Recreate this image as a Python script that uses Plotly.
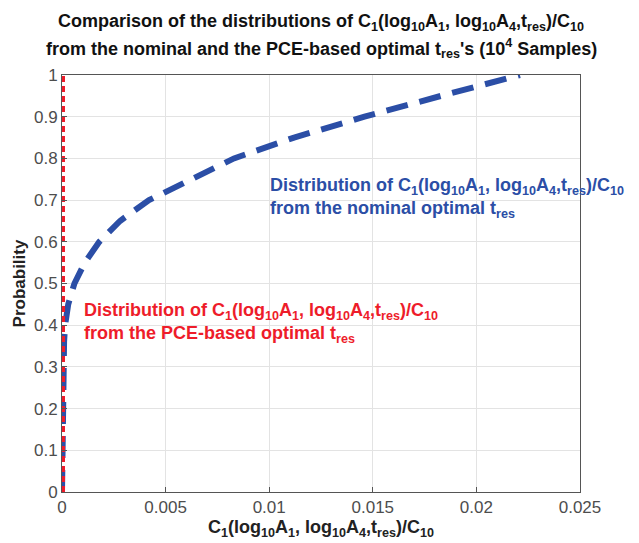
import plotly.graph_objects as go

# data
nominal_x = [0.0, 0.00002, 0.00005, 0.0001, 0.00015, 0.0003, 0.0006, 0.0011, 0.0018, 0.0028, 0.0042, 0.0062, 0.0083, 0.0112, 0.0146, 0.0183, 0.0221]
nominal_y = [0.0, 0.15, 0.30, 0.36, 0.40, 0.45, 0.50, 0.55, 0.60, 0.65, 0.70, 0.75, 0.80, 0.85, 0.90, 0.95, 1.0]
pce_x = [0.0, 0.0]
pce_y = [0.0, 1.0]
x_ticks = [0, 0.005, 0.01, 0.015, 0.02, 0.025]
x_tick_labels = ["0", "0.005", "0.01", "0.015", "0.02", "0.025"]
y_ticks = [0, 0.1, 0.2, 0.3, 0.4, 0.5, 0.6, 0.7, 0.8, 0.9, 1]
y_tick_labels = ["0", "0.1", "0.2", "0.3", "0.4", "0.5", "0.6", "0.7", "0.8", "0.9", "1"]

BLUE = "#2b4ea6"
RED = "#ee1c2a"
FONT = "Liberation Sans, Arial, Helvetica"
expr = "C<sub>1</sub>(log<sub>10</sub>A<sub>1</sub>, log<sub>10</sub>A<sub>4</sub>,t<sub>res</sub>)/C<sub>10</sub>"

fig = go.Figure()
fig.add_trace(go.Scatter(x=nominal_x, y=nominal_y, mode="lines",
                         line=dict(color=BLUE, width=6, dash="22px,12px"),
                         showlegend=False, cliponaxis=False))
fig.add_trace(go.Scatter(x=pce_x, y=pce_y, mode="lines",
                         line=dict(color=RED, width=6, dash="6px,4px"),
                         showlegend=False, cliponaxis=False))

fig.add_annotation(x=0.00097, y=0.465, xref="x", yref="y", xanchor="left", yanchor="top",
                   text="<b>Distribution of " + expr + "<br>from the PCE-based optimal t<sub>res</sub></b>",
                   showarrow=False, align="left", font=dict(color=RED, size=18, family=FONT))
fig.add_annotation(x=0.00994, y=0.765, xref="x", yref="y", xanchor="left", yanchor="top",
                   text="<b>Distribution of " + expr + "<br>from the nominal optimal t<sub>res</sub></b>",
                   showarrow=False, align="left", font=dict(color=BLUE, size=18, family=FONT))

# title as two annotation lines
fig.add_annotation(x=0.5, y=1.127, xref="paper", yref="paper", xanchor="center", yanchor="middle",
                   text="<b>Comparison of the distributions of " + expr + "</b>",
                   showarrow=False, font=dict(size=18, color="#111111", family=FONT))
fig.add_annotation(x=0.5, y=1.063, xref="paper", yref="paper", xanchor="center", yanchor="middle",
                   text="<b>from the nominal and the PCE-based optimal t<sub>res</sub>'s (10<sup>4</sup> Samples)</b>",
                   showarrow=False, font=dict(size=18, color="#111111", family=FONT))

fig.update_layout(
    width=639, height=543,
    margin=dict(l=62, r=59, t=75, b=51),
    paper_bgcolor="white", plot_bgcolor="white",
    font=dict(family=FONT, color="#333333"),
    xaxis=dict(range=[0, 0.025], tickvals=x_ticks, ticktext=x_tick_labels, automargin=False,
               showgrid=True, gridcolor="#e3e3e3", gridwidth=1,
               showline=True, linecolor="#555555", linewidth=1, mirror=True,
               ticks="inside", ticklen=5, tickcolor="#555555",
               tickfont=dict(size=17, color="#4d4d4d"), zeroline=False,
               title=dict(text="<b>" + expr + "</b>", standoff=0,
                          font=dict(size=18, color="#222222"))),
    yaxis=dict(range=[0, 1], tickvals=y_ticks, ticktext=y_tick_labels, automargin=False,
               showgrid=True, gridcolor="#e3e3e3", gridwidth=1,
               showline=True, linecolor="#555555", linewidth=1, mirror=True,
               ticks="inside", ticklen=5, tickcolor="#555555",
               tickfont=dict(size=17, color="#4d4d4d"), zeroline=False,
               title=dict(text="<b>Probability</b>", standoff=4,
                          font=dict(size=17, color="#222222"))),
)

fig.write_html("out.html", config={"displayModeBar": False},
               post_script="document.body.style.margin='0';document.body.style.overflow='hidden';")
